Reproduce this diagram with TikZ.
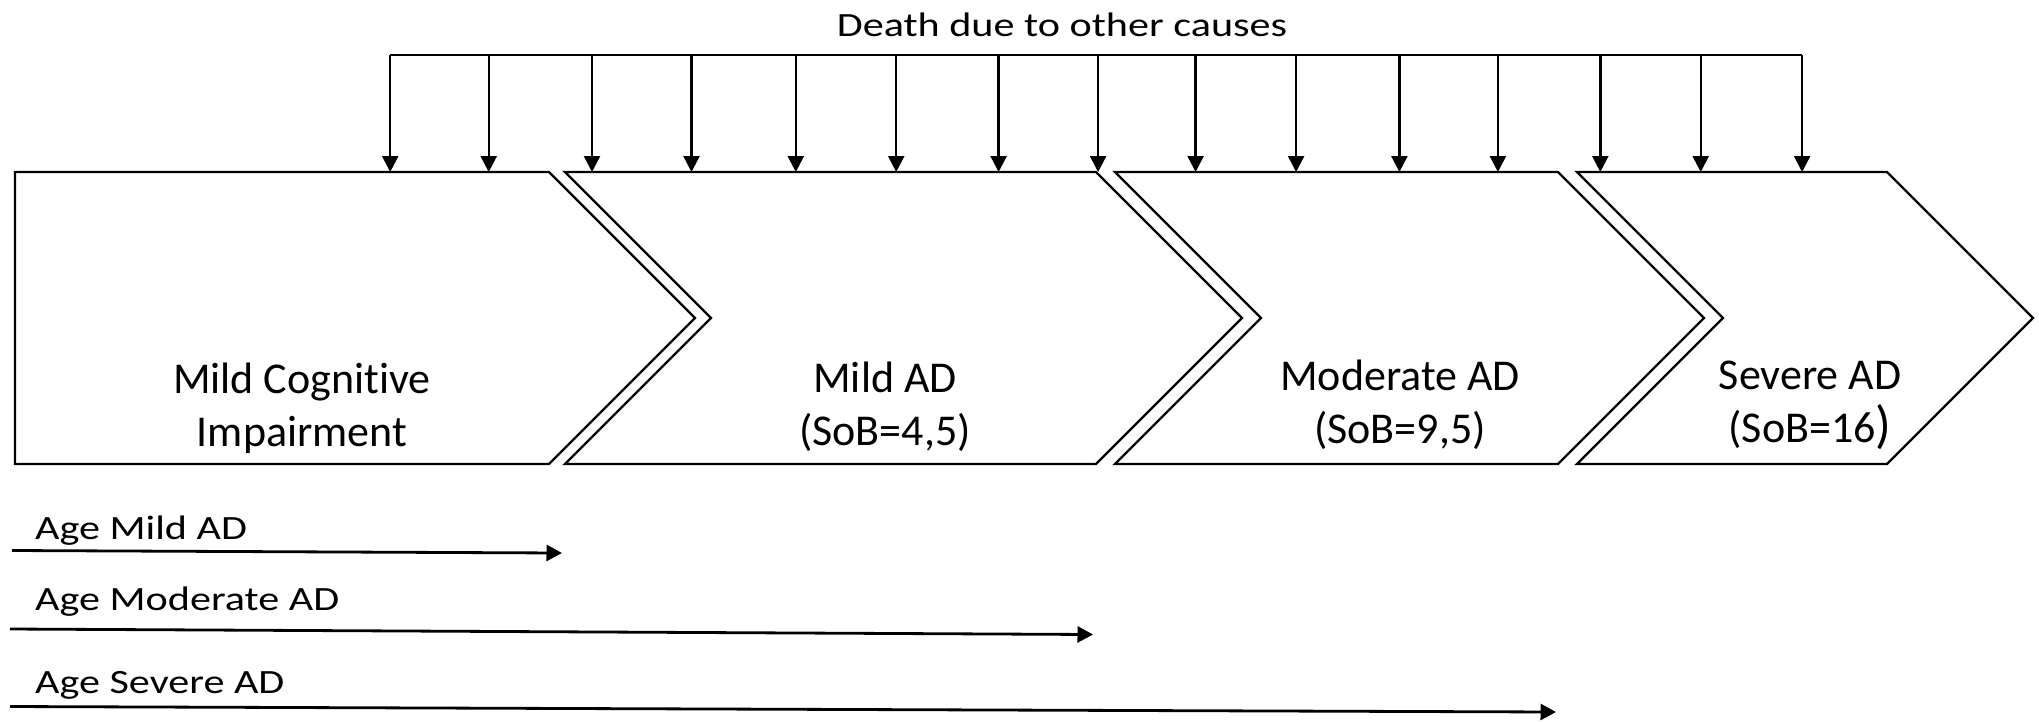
\documentclass[tikz,border=0pt]{standalone}
\usepackage{fontspec}
\setmainfont{Carlito}[RawFeature={-liga}]
\newfontfamily\widefont[FakeStretch=1.24,RawFeature={-liga}]{Carlito}
\usetikzlibrary{arrows.meta}
\begin{document}
\begin{tikzpicture}[x=1pt,y=-1pt,
  stage/.style={draw=black, line width=2.4pt, line join=miter, fill=white},
  boxlabel/.style={align=center, anchor=base, inner sep=0pt, font=\fontsize{44}{53}\selectfont},
  sidelabel/.style={anchor=base west, inner sep=0pt, font=\widefont\fontsize{34}{40}\selectfont},
  deatharrow/.style={line width=2.4pt, -{Triangle[length=16pt,width=16pt]}},
  agearrow/.style={line width=2.8pt, -{Triangle[length=15.5pt,width=16pt]}}]
\useasboundingbox[fill=white] (0,0) rectangle (2039,721);

% stages
\path[stage] (15,172) -- (549,172) -- (695,318) -- (549,464) -- (15,464) -- cycle;
\path[stage] (565,172) -- (1096,172) -- (1242,318) -- (1096,464) -- (565,464) -- (711,318) -- cycle;
\path[stage] (1115,172) -- (1558,172) -- (1704,318) -- (1558,464) -- (1115,464) -- (1261,318) -- cycle;
\path[stage] (1577,172) -- (1887,172) -- (2033,318) -- (1887,464) -- (1577,464) -- (1723,318) -- cycle;

% anchor=base of a two-line node sits on the baseline of its last line
\node[boxlabel] (mci) at (302,446.5) {Mild Cognitive\\Impairment};
\node[boxlabel] (mild) at (885,445) {Mild AD\\(SoB=4,5)};
\node[boxlabel] (moder) at (1400,443) {Moderate AD\\(SoB=9,5)};
\node[boxlabel] (severe) at (1810,442) {Severe AD\\(SoB=16{\fontsize{52}{53}\selectfont)}};

% death due to other causes
\node[sidelabel, anchor=base] (death) at (1062,36.7) {Death due to other causes};
\coordinate (dl) at (390.2,55);
\coordinate (dr) at (1802.1,55);
\draw[line width=2pt] (dl) -- (dr);
\foreach \x [count=\i] in {390.2,488.7,592,691.5,795.8,896.2,998.6,1098.1,1195.6,1296.1,1399.4,1497.9,1600.3,1700.7,1802.1}{
  \coordinate (d\i) at (\x,55);
  \coordinate (s\i) at (\x,172);
  \draw[deatharrow] (d\i) -- (s\i);
}

% age arrows
\node[sidelabel] (agemild) at (35,539.3) {Age Mild AD};
\coordinate (a1s) at (12,550.5);
\coordinate (a1e) at (562,553);
\draw[agearrow] (a1s) -- (a1e);

\node[sidelabel] (agemod) at (35,610.5) {Age Moderate AD};
\coordinate (a2s) at (10,629);
\coordinate (a2e) at (1093,634.5);
\draw[agearrow] (a2s) -- (a2e);

\node[sidelabel] (agesev) at (35,693) {Age Severe AD};
\coordinate (a3s) at (10,706.5);
\coordinate (a3e) at (1556,712);
\draw[agearrow] (a3s) -- (a3e);
\end{tikzpicture}
\end{document}
